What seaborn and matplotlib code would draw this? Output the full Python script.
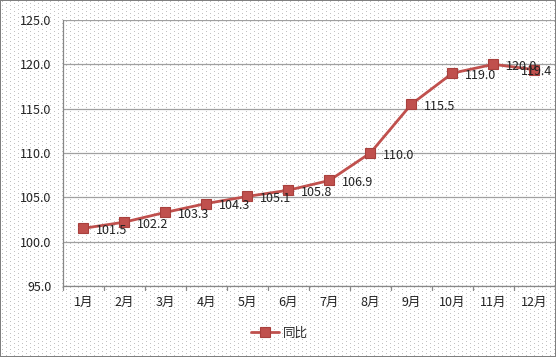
import matplotlib
matplotlib.use("Agg")
import matplotlib.pyplot as plt
import seaborn as sns
import pandas as pd
import numpy as np

months = ["1月", "2月", "3月", "4月", "5月", "6月", "7月", "8月", "9月", "10月", "11月", "12月"]
values = [101.5, 102.2, 103.3, 104.3, 105.1, 105.8, 106.9, 110.0, 115.5, 119.0, 120.0, 119.4]
series_name = "同比"
yticks = [95.0, 100.0, 105.0, 110.0, 115.0, 120.0, 125.0]

sns.set_style("white")
plt.rcParams['font.family'] = ['Noto Sans CJK SC', 'DejaVu Sans']

df = pd.DataFrame({"month": months, "value": values, "series": series_name})

W, H = 556, 357
fig = plt.figure(figsize=(W / 100, H / 100), dpi=100)
fig.patch.set_facecolor("white")

# dotted background texture
tex = np.ones((H, W, 3))
yy, xx = np.mgrid[0:H, 0:W]
dots = ((yy % 4 == 1) & (xx % 8 == 2)) | ((yy % 4 == 3) & (xx % 8 == 6))
tex[dots] = 0.76
tex[:, 0:1] = 0.5
tex[:, W - 1:] = 0.5
tex[0:1, :] = 0.5
tex[H - 1:, :] = 0.5
fig.figimage(tex, xo=0, yo=0, zorder=-10)

ax = fig.add_axes([0.113, 0.199, 0.885, 0.745])
ax.set_facecolor("none")

color = "#C0504D"
sns.lineplot(data=df, x="month", y="value", hue="series", palette=[color], ax=ax,
             marker="s", markersize=7.5, markeredgecolor="#A8403D", markeredgewidth=0.8,
             linewidth=2, sort=False)

n = len(values)
for i, v in enumerate(values):
    off = (9, -1.5) if i < n - 1 else (-10, -1.5)
    ax.annotate(f"{v:.1f}", (i, v), xytext=off, textcoords="offset points",
                ha="left", va="center", fontsize=9, color="#222222")

ax.set_xlim(-0.5, len(months) - 0.5)
ax.set_ylim(95, 125)
ax.set_yticks(yticks)
ax.set_yticklabels([f"{t:.1f}" for t in yticks], fontsize=9, color="#222222")
ax.tick_params(axis="x", labelsize=9, colors="#222222", pad=7, length=0)
ax.tick_params(axis="y", length=4, color="#888888", pad=4, direction="out")
ax.set_xlabel("")
ax.set_ylabel("")
ax.yaxis.grid(True, color="#a0a0a0", linewidth=0.9)
ax.set_axisbelow(True)
for s in ["top", "right"]:
    ax.spines[s].set_visible(False)
ax.spines["left"].set_color("#888888")
ax.spines["bottom"].set_color("#888888")
ax.spines["left"].set_linewidth(0.9)
ax.spines["bottom"].set_linewidth(0.9)
for i in range(len(months) + 1):
    ax.plot([i - 0.5, i - 0.5], [95, 94.6], color="#888888", lw=0.9, clip_on=False)

leg = ax.legend(loc="center", bbox_to_anchor=(0.44, -0.177), frameon=False, fontsize=9,
                handlelength=2.2, handletextpad=0.3)
fig.savefig("out.png", dpi=100)
